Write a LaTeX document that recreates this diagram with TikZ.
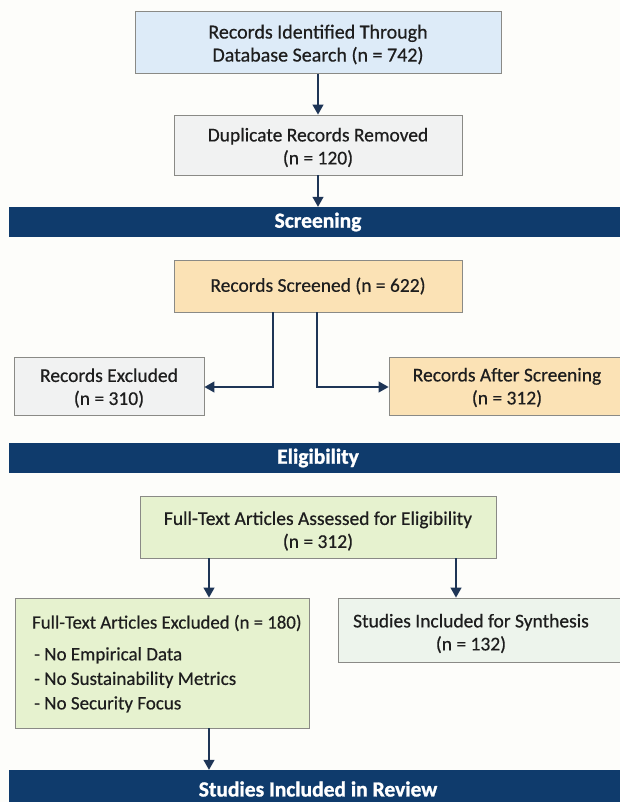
\documentclass[tikz,border=0pt]{standalone}
\usepackage{fontspec}
\setmainfont{Carlito}[FakeBold=0.5,BoldFeatures={FakeBold=1.2}]
\usetikzlibrary{arrows.meta}
\definecolor{navy}{HTML}{0F3B6C}
\definecolor{arrowc}{HTML}{1E3556}
\definecolor{bluef}{HTML}{DDEBF8}
\definecolor{grayf}{HTML}{F1F2F2}
\definecolor{orangef}{HTML}{FBE2B5}
\definecolor{greenf}{HTML}{E6F2CF}
\definecolor{mintf}{HTML}{EDF4EC}
\definecolor{edgec}{HTML}{8A8A86}
\definecolor{txt}{HTML}{1E1E1E}
\definecolor{bg}{HTML}{FDFDFA}
\begin{document}
\begin{tikzpicture}[x=1pt,y=-1pt,
  box/.style={draw=edgec,line width=0.9pt,inner sep=0pt},
  lbl/.style={inner sep=0pt,align=center,text=txt,
    font=\fontsize{19.5}{23}\selectfont},
  band/.style={fill=navy,inner sep=0pt,text=white,
    font=\fontsize{21.5}{24}\selectfont\bfseries},
  arr/.style={draw=arrowc,line width=1.3pt,-{Triangle[width=11pt,length=10pt]}}]
\fill[bg] (0,0) rectangle (620,802);
\useasboundingbox (0,0) rectangle (620,802);
% top boxes
\node[box,fill=bluef,minimum width=366pt,minimum height=62pt] (b1) at (318,42.5) {};
\node[lbl,font=\fontsize{20}{23}\selectfont] (t1) at ([yshift=-2pt]b1.center)
  {Records Identified Through\\Database Search (n = 742)};
\node[box,fill=grayf,minimum width=288pt,minimum height=60pt] (b2) at (318,145) {};
\node[lbl] (t2) at ([yshift=-2.5pt]b2.center) {Duplicate Records Removed\\(n = 120)};
\node[band,minimum width=618pt,minimum height=30pt] (s1) at (318,222) {Screening};
\draw[arr] (b1) -- (b2);
\draw[arr] (b2) -- (s1);
% screening
\node[box,fill=orangef,minimum width=288pt,minimum height=52pt] (b3) at (318,286) {};
\node[lbl] (t3) at (b3.center) {Records Screened (n = 622)};
\node[box,fill=grayf,minimum width=190pt,minimum height=58pt] (ex1) at (109,386) {};
\node[lbl] (t4) at ([yshift=-2pt]ex1.center) {Records Excluded\\(n = 310)};
\node[box,fill=orangef,minimum width=236pt,minimum height=58pt] (af) at (507,386) {};
\node[lbl] (t5) at ([yshift=-1.5pt]af.center) {Records After Screening\\(n = 312)};
\draw[arr] ([xshift=-45pt]b3.south) |- ([yshift=-1pt]ex1.east);
\draw[arr] ([xshift=-1pt]b3.south) |- ([yshift=-1pt]af.west);
\node[band,minimum width=618pt,minimum height=30pt] (s2) at (318,458) {Eligibility};
% eligibility
\node[box,fill=greenf,minimum width=356pt,minimum height=62pt] (b4) at (318,527) {};
\node[lbl] (t6) at ([yshift=-4pt]b4.center) {Full-Text Articles Assessed for Eligibility\\(n = 312)};
\node[box,fill=greenf,minimum width=294pt,minimum height=130pt] (ex2) at (162,663) {};
\node[anchor=west,inner sep=0pt,align=left,text=txt,
  font=\fontsize{18.8}{24.5}\selectfont] (ex2t) at (32,623)
  {Full-Text Articles Excluded (n = 180)};
\node[anchor=north west,inner sep=0pt,align=left,text=txt,
  font=\fontsize{19}{24.5}\selectfont] (ex2l) at (34,647)
  {- No Empirical Data\\
   - No Sustainability Metrics\\
   - No Security Focus};
\node[box,fill=mintf,minimum width=286pt,minimum height=64pt] (syn) at (481,630) {};
\node[lbl] (t7) at ([xshift=-10pt,yshift=-3.5pt]syn.center) {Studies Included for Synthesis\\(n = 132)};
\coordinate (cL) at (209,0);
\coordinate (cR) at (456,0);
\draw[arr] (b4.south -| cL) -- (ex2.north -| cL);
\draw[arr] (b4.south -| cR) -- (syn.north -| cR);
\node[band,minimum width=618pt,minimum height=38pt] (s3) at (318,789) {Studies Included in Review};
\draw[arr] (ex2.south -| cL) -- (s3.north -| cL);
\end{tikzpicture}
\end{document}
